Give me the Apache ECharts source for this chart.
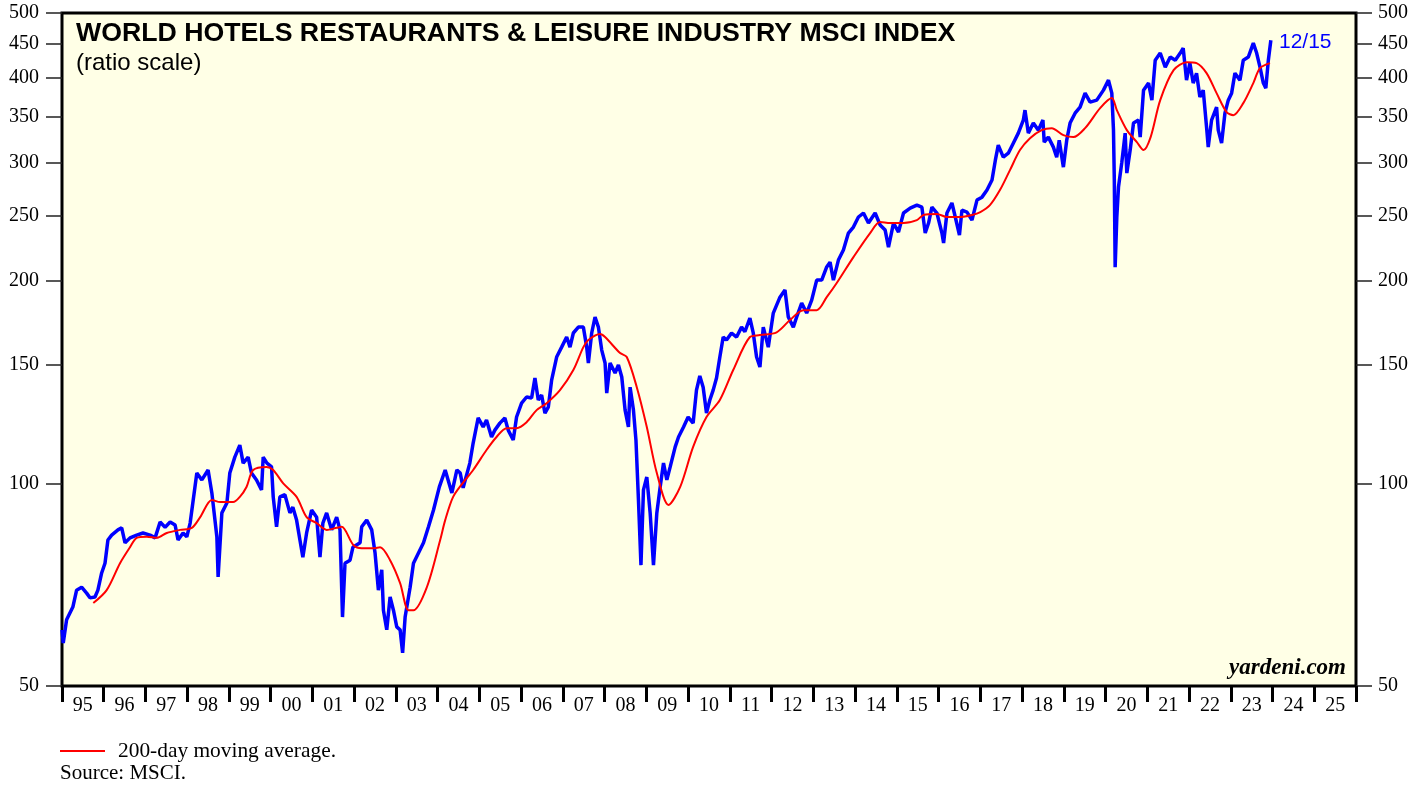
<!DOCTYPE html>
<html>
<head>
<meta charset="utf-8">
<script src="https://cdn.jsdelivr.net/npm/echarts@6/dist/echarts.min.js"></script>
<style>
  html, body { margin: 0; padding: 0; background: #ffffff; }
  #chart { width: 1427px; height: 787px; }
</style>
</head>
<body>
<div id="chart"></div>
<script>
// year labels under the x axis (one per year band)
var yearLabels = ['95', '96', '97', '98', '99', '00', '01', '02', '03', '04', '05', '06', '07', '08', '09',
  '10', '11', '12', '13', '14', '15', '16', '17', '18', '19', '20', '21', '22', '23', '24', '25']

// ratio-scale ticks
var yTicks = [50, 100, 150, 200, 250, 300, 350, 400, 450, 500]

// MSCI World Hotels Restaurants & Leisure index (decimal year, level)
var indexTimes = [
  1995.00, 1995.03, 1995.11, 1995.26, 1995.35, 1995.47, 1995.59, 1995.67, 1995.79, 1995.86, 1995.95,
  1996.03, 1996.10, 1996.19, 1996.34, 1996.43, 1996.51, 1996.63, 1996.79, 1996.94,
  1997.11, 1997.23, 1997.35, 1997.47, 1997.59, 1997.71, 1997.78, 1997.90, 1997.99,
  1998.07, 1998.23, 1998.35, 1998.50, 1998.59, 1998.71, 1998.74, 1998.83, 1998.95,
  1999.02, 1999.14, 1999.26, 1999.34, 1999.46, 1999.54, 1999.66, 1999.78, 1999.82, 1999.91,
  2000.02, 2000.06, 2000.14, 2000.22, 2000.34, 2000.46, 2000.53, 2000.62, 2000.70, 2000.77, 2000.86, 2000.98,
  2001.10, 2001.18, 2001.25, 2001.34, 2001.46, 2001.58, 2001.66, 2001.72, 2001.78, 2001.90, 2001.97,
  2002.14, 2002.18, 2002.30, 2002.42, 2002.50, 2002.58, 2002.66, 2002.70, 2002.78, 2002.86, 2002.94,
  2003.02, 2003.10, 2003.16, 2003.22, 2003.34, 2003.42, 2003.54, 2003.66, 2003.78, 2003.90,
  2004.04, 2004.18, 2004.34, 2004.46, 2004.54, 2004.61, 2004.77, 2004.85, 2004.97,
  2005.09, 2005.17, 2005.29, 2005.37, 2005.49, 2005.61, 2005.69, 2005.81, 2005.89,
  2006.01, 2006.13, 2006.25, 2006.33, 2006.41, 2006.49, 2006.57, 2006.65, 2006.73, 2006.85, 2006.97,
  2007.09, 2007.17, 2007.25, 2007.37, 2007.49, 2007.57, 2007.61, 2007.69, 2007.77, 2007.85, 2007.93,
  2008.01, 2008.05, 2008.13, 2008.25, 2008.33, 2008.41, 2008.49, 2008.57, 2008.61, 2008.69, 2008.75,
  2008.81, 2008.87, 2008.93,
  2009.01, 2009.09, 2009.17, 2009.25, 2009.33, 2009.41, 2009.49, 2009.57, 2009.69, 2009.77, 2009.89,
  2010.00, 2010.12, 2010.20, 2010.28, 2010.36, 2010.44, 2010.52, 2010.60, 2010.68, 2010.76, 2010.84, 2010.92,
  2011.04, 2011.16, 2011.28, 2011.36, 2011.48, 2011.56, 2011.64, 2011.72, 2011.80, 2011.92,
  2012.04, 2012.20, 2012.32, 2012.40, 2012.52, 2012.60, 2012.72, 2012.84, 2012.96,
  2013.08, 2013.20, 2013.32, 2013.40, 2013.48, 2013.60, 2013.72, 2013.84, 2013.96,
  2014.08, 2014.20, 2014.32, 2014.48, 2014.60, 2014.72, 2014.80, 2014.92,
  2015.04, 2015.16, 2015.32, 2015.48, 2015.60, 2015.68, 2015.76, 2015.84, 2015.96,
  2016.08, 2016.12, 2016.20, 2016.32, 2016.40, 2016.50, 2016.56, 2016.68, 2016.80, 2016.92,
  2017.04, 2017.16, 2017.28, 2017.36, 2017.43, 2017.55, 2017.67, 2017.79, 2017.91,
  2018.03, 2018.07, 2018.15, 2018.27, 2018.39, 2018.50, 2018.53, 2018.63, 2018.75, 2018.83, 2018.89, 2018.99,
  2019.07, 2019.15, 2019.27, 2019.39, 2019.51, 2019.63, 2019.79, 2019.95,
  2020.07, 2020.15, 2020.19, 2020.21, 2020.23, 2020.27, 2020.31, 2020.39, 2020.47, 2020.51, 2020.59, 2020.67,
  2020.79, 2020.83, 2020.91,
  2021.03, 2021.11, 2021.19, 2021.31, 2021.43, 2021.55, 2021.67, 2021.79, 2021.86, 2021.94,
  2022.02, 2022.10, 2022.18, 2022.26, 2022.34, 2022.42, 2022.46, 2022.54, 2022.66, 2022.70, 2022.78, 2022.86, 2022.94,
  2023.02, 2023.10, 2023.22, 2023.30, 2023.42, 2023.54, 2023.62, 2023.70, 2023.78, 2023.84, 2023.90, 2023.96
]
var indexValues = [
  60.6, 57.9, 62.7, 65.5, 69.4, 70.1, 68.7, 67.6, 67.8, 69.4, 73.6,
  76.1, 82.4, 83.8, 85.3, 85.9, 81.6, 83.0, 83.8, 84.4,
  83.8, 83.0, 87.6, 86.1, 87.6, 86.7, 82.4, 84.4, 83.3,
  87.3, 103.6, 101.2, 104.7, 96.8, 83.3, 72.6, 90.4, 93.5,
  103.6, 109.4, 114.0, 107.2, 109.4, 103.6, 101.2, 97.8, 109.4, 107.2,
  105.8, 95.5, 86.2, 95.5, 96.2, 90.4, 92.2, 88.2, 82.4, 77.7, 84.4, 91.3,
  89.1, 77.7, 87.3, 90.4, 85.3, 89.1, 85.3, 63.3, 76.1, 76.9, 80.4,
  81.6, 86.2, 88.2, 85.3, 78.8, 69.4, 74.4, 64.8, 60.6, 67.8, 64.8,
  61.2, 60.6, 56.0, 63.3, 70.1, 76.1, 78.8, 81.6, 86.2, 91.3,
  98.8, 104.7, 96.8, 104.7, 103.6, 98.5, 107.2, 114.8, 125.1,
  121.3, 124.2, 117.2, 120.0, 122.9, 125.1, 120.0, 116.0, 125.5,
  131.6, 134.4, 133.9, 143.4, 133.0, 135.3, 127.2, 129.8, 142.4, 154.1, 159.4,
  165.0, 159.4, 167.3, 170.7, 170.7, 159.4, 151.0, 167.3, 176.7, 170.7, 157.8,
  151.0, 136.2, 151.0, 145.9, 150.0, 143.9, 128.5, 121.3, 139.0, 128.5, 116.0,
  94.5, 75.6, 97.8,
  102.2, 90.4, 75.6, 90.4, 98.8, 107.2, 101.2, 105.8, 113.3, 117.2, 121.3,
  125.5, 122.9, 137.6, 144.4, 139.0, 127.2, 133.0, 137.6, 143.4, 154.1, 165.0, 163.3,
  167.3, 165.0, 170.7, 168.0, 176.1, 167.3, 154.1, 148.9, 170.7, 159.4,
  179.1, 189.1, 193.8, 176.7, 170.7, 176.7, 185.3, 179.1, 187.2,
  200.5, 200.5, 209.7, 213.2, 200.5, 214.7, 222.2, 235.5, 240.4,
  248.8, 252.2, 243.7, 252.2, 242.1, 237.9, 224.5, 243.7,
  236.3, 252.2, 256.4, 259.1, 257.3, 235.5, 243.7, 257.3, 252.2,
  235.5, 227.6, 252.2, 261.0, 248.8, 233.9, 254.7, 253.0, 246.2, 263.6,
  266.3, 272.8, 282.3, 302.2, 318.2, 305.3, 309.5, 320.3, 331.5,
  346.6, 358.6, 331.5, 343.1, 334.9, 346.6, 321.4, 327.0, 316.0, 305.3, 323.6, 295.1,
  323.6, 343.1, 354.9, 362.3, 380.1, 368.6, 371.1, 384.0,
  397.4, 380.1, 334.9, 282.3, 209.6, 248.8, 275.6, 300.1, 331.5, 289.1, 312.8, 343.1,
  346.6, 327.0, 384.0,
  393.4, 371.1, 425.5, 436.0, 415.5, 430.0, 425.5, 436.0, 443.3, 397.4,
  421.2, 393.4, 406.9, 375.0, 384.0, 338.4, 316.0, 346.6, 362.3, 334.9, 320.3, 354.9, 371.1,
  380.1, 407.0, 397.4, 425.5, 430.0, 451.0, 436.0, 415.5, 393.4, 386.7, 425.5, 455.6
]

// 200-day moving average (decimal year, level)
var maTimes = [
  1995.75, 1996.07, 1996.39, 1996.63, 1996.79, 1997.03, 1997.27, 1997.51, 1997.83,
  1998.11, 1998.31, 1998.59, 1998.79, 1999.10, 1999.26, 1999.42, 1999.58, 1999.90,
  2000.06, 2000.30, 2000.62, 2000.86, 2001.10, 2001.34, 2001.58, 2001.70, 2001.98,
  2002.18, 2002.46, 2002.62, 2002.86, 2003.10, 2003.30, 2003.42, 2003.74,
  2004.06, 2004.18, 2004.37, 2004.61, 2004.85, 2005.17, 2005.41, 2005.65, 2005.89,
  2006.13, 2006.37, 2006.61, 2006.93, 2007.25, 2007.49, 2007.61, 2007.89,
  2008.01, 2008.37, 2008.53, 2008.77, 2009.01, 2009.25, 2009.53, 2009.81,
  2010.12, 2010.44, 2010.76, 2011.08, 2011.48, 2011.72, 2012.12, 2012.44, 2012.76,
  2013.08, 2013.32, 2013.56, 2013.96, 2014.36, 2014.60, 2014.84, 2015.16, 2015.48, 2015.64, 2015.96,
  2016.20, 2016.52, 2016.80, 2017.00, 2017.23, 2017.47, 2017.71, 2017.95,
  2018.19, 2018.47, 2018.71, 2018.99, 2019.23, 2019.51, 2019.87,
  2020.15, 2020.27, 2020.51, 2020.75, 2020.91, 2021.08, 2021.31, 2021.63, 2021.95,
  2022.18, 2022.42, 2022.66, 2022.90, 2023.06, 2023.30, 2023.54, 2023.70, 2023.94
]
var maValues = [
  66.4, 69.4, 76.1, 80.4, 83.0, 83.3, 83.0, 84.4, 85.3,
  85.9, 89.1, 94.5, 93.8, 93.8, 95.5, 98.8, 104.7, 105.8,
  104.7, 100.0, 95.5, 89.1, 87.3, 85.3, 85.9, 86.2, 81.0,
  80.1, 80.1, 80.4, 76.9, 71.1, 64.8, 64.8, 70.1,
  82.4, 88.2, 95.5, 100.3, 104.7, 112.1, 117.2, 120.8, 120.8,
  123.3, 128.5, 131.6, 137.6, 147.4, 159.4, 163.3, 166.7,
  165.0, 156.2, 154.1, 139.0, 121.3, 103.6, 92.9, 98.8,
  113.3, 125.5, 133.0, 147.4, 165.0, 166.1, 167.7, 174.9, 180.9,
  180.9, 189.1, 198.5, 216.9, 235.5, 244.5, 243.7, 243.7, 246.2, 250.5, 251.3,
  248.8, 248.8, 250.5, 253.0, 259.1, 272.8, 292.1, 312.8,
  325.8, 334.9, 337.2, 329.2, 327.0, 337.2, 361.1,
  373.7, 358.6, 334.9, 321.4, 312.8, 327.0, 371.1, 411.2, 422.6,
  421.2, 407.0, 380.1, 356.2, 352.5, 367.3, 393.4, 414.0, 421.2
]

function pairUp (xs, ys) {
  return xs.map(function (x, i) { return [x, ys[i]] })
}

var chart = echarts.init(document.getElementById('chart'))

var serif = '"Liberation Serif", "Times New Roman", serif'
var sans = '"Liberation Sans", Arial, sans-serif'

var yAxisCommon = {
  type: 'log',
  logBase: 10,
  min: 50,
  max: 500,
  splitLine: { show: false },
  axisLine: { show: false },
  axisTick: {
    show: true,
    inside: false,
    length: 16,
    customValues: yTicks,
    lineStyle: { color: '#222', width: 1.5 }
  },
  axisLabel: {
    customValues: yTicks,
    fontFamily: serif,
    fontSize: 20,
    color: '#000',
    formatter: function (v) { return Math.round(v) }
  }
}

var option = {
  animation: false,
  backgroundColor: '#ffffff',
  grid: {
    left: 62,
    right: 71,
    top: 13,
    bottom: 101,
    show: true,
    backgroundColor: '#FFFFE6',
    borderColor: '#000',
    borderWidth: 3,
    containLabel: false
  },
  xAxis: [
    {
      type: 'value',
      min: 1995,
      max: 2026,
      interval: 1,
      splitLine: { show: false },
      axisLine: { show: false },
      axisLabel: { show: false },
      axisTick: { show: true, inside: false, length: 16, lineStyle: { color: '#000', width: 3 } }
    },
    {
      type: 'category',
      position: 'bottom',
      data: yearLabels,
      boundaryGap: true,
      axisLine: { show: false },
      axisTick: { show: false },
      splitLine: { show: false },
      axisLabel: { interval: 0, margin: 10, fontFamily: serif, fontSize: 20, color: '#000' }
    }
  ],
  yAxis: [
    Object.assign({}, yAxisCommon, { position: 'left', axisLabel: Object.assign({}, yAxisCommon.axisLabel, { margin: 23 }) }),
    Object.assign({}, yAxisCommon, { position: 'right', axisLabel: Object.assign({}, yAxisCommon.axisLabel, { margin: 22 }) })
  ],
  series: [
    {
      name: 'index',
      type: 'line',
      xAxisIndex: 0,
      yAxisIndex: 0,
      data: pairUp(indexTimes, indexValues),
      showSymbol: false,
      lineStyle: { color: '#0000FF', width: 3.5 },
      z: 2
    },
    {
      name: '200-day moving average',
      type: 'line',
      xAxisIndex: 0,
      yAxisIndex: 0,
      data: pairUp(maTimes, maValues),
      showSymbol: false,
      smooth: 0.3,
      lineStyle: { color: '#FF0000', width: 2 },
      z: 3
    }
  ],
  graphic: [
    { type: 'text', left: 76, top: 20, style: { text: 'WORLD HOTELS RESTAURANTS & LEISURE INDUSTRY MSCI INDEX', font: 'bold 26.7px ' + sans, fill: '#000' } },
    { type: 'text', left: 76, top: 51, style: { text: '(ratio scale)', font: '24px ' + sans, fill: '#000' } },
    { type: 'text', left: 1279, top: 32, style: { text: '12/15', font: '21px ' + sans, fill: '#0000FF' } },
    { type: 'text', right: 81, top: 657, style: { text: 'yardeni.com', font: 'italic bold 23px ' + serif, fill: '#000' } },
    { type: 'line', shape: { x1: 60, y1: 751, x2: 105, y2: 751 }, style: { stroke: '#FF0000', lineWidth: 2 } },
    { type: 'text', left: 118, top: 741, style: { text: '200-day moving average.', font: '21.4px ' + serif, fill: '#000' } },
    { type: 'text', left: 60, top: 763, style: { text: 'Source: MSCI.', font: '21px ' + serif, fill: '#000' } }
  ]
}

chart.setOption(option)
</script>
</body>
</html>
